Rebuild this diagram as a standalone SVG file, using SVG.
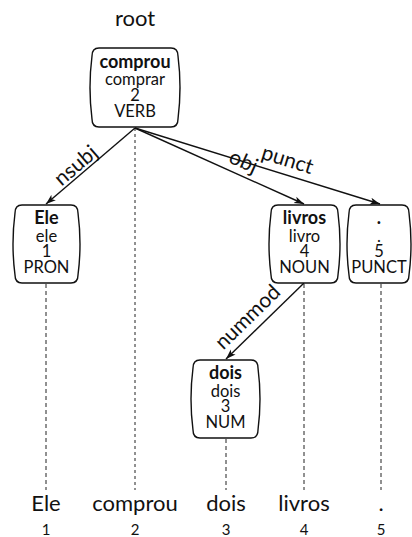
<svg xmlns="http://www.w3.org/2000/svg" width="412" height="537" viewBox="0 0 412 537">
  <defs>
    <marker id="arrow" viewBox="0 0 10 8" refX="10" refY="4" markerWidth="10" markerHeight="8" markerUnits="userSpaceOnUse" orient="auto">
      <path d="M0,0.5 L10,4 L0,7.5 L2.5,4 Z" fill="#111"/>
    </marker>
    <style>
      text { font-family: Lato, "Open Sans", "DejaVu Sans", sans-serif; fill: #111; text-anchor: middle; }
      .box { fill: #fff; stroke: #111; stroke-width: 1.4; }
      .form { font-weight: bold; font-size: 18px; }
      .info { font-size: 16.5px; }
      .edge { fill: none; stroke: #111; stroke-width: 1.4; marker-end: url(#arrow); }
      .lbl { font-size: 21px; }
      .guide { stroke: #222; stroke-width: 1; stroke-dasharray: 4 3; }
      .word { font-size: 22px; }
      .idx { font-size: 15px; }
      .root { font-size: 22px; }
    </style>
  </defs>

  <text class="root" x="135" y="26">root</text>

  <!-- projection guides from each token box down to the sentence line -->
  <g id="guides">
    <line class="guide" x1="135" y1="128" x2="135" y2="490" style="stroke-dasharray:3 3"/>
    <line class="guide" x1="46" y1="284" x2="46" y2="490"/>
    <line class="guide" x1="304" y1="284" x2="304" y2="490"/>
    <line class="guide" x1="381" y1="284" x2="381" y2="490"/>
    <line class="guide" x1="226" y1="439" x2="226" y2="490"/>
  </g>

  <!-- dependency arcs -->
  <g id="edges">
    <path class="edge" d="M135,128 L46,204"/>
    <path class="edge" d="M135,128 L304,204"/>
    <path class="edge" d="M135,128 L380,204"/>
    <path class="edge" d="M304,283 L226,359"/>
    <text class="lbl" transform="translate(82.2,173.1) rotate(-40.5)" y="-3">nsubj</text>
    <text class="lbl" transform="translate(237.8,174.2) rotate(24.2)" y="-7">obj</text>
    <text class="lbl" transform="translate(283.2,174) rotate(17.2)" y="-8">punct</text>
    <text class="lbl" transform="translate(258,327.8) rotate(-44.3)" y="-8">nummod</text>
  </g>

  <g id="n2">
    <path class="box" d="M99,48 H171 Q178,48 178,56 Q182,87.5 178,119 Q178,127 171,127 H99 Q92,127 92,119 Q88,87.5 92,56 Q92,48 99,48 Z"/>
    <text class="form" x="135" y="68">comprou</text>
    <text class="info" x="135" y="85">comprar</text>
    <text class="info" x="135" y="101">2</text>
    <text class="info" x="135" y="117">VERB</text>
  </g>

  <g id="n1">
    <path class="box" d="M22,205 H71 Q78,205 78,213 Q82,244 78,275 Q78,283 71,283 H22 Q15,283 15,275 Q11,244 15,213 Q15,205 22,205 Z"/>
    <text class="form" x="46.5" y="224">Ele</text>
    <text class="info" x="46.5" y="242">ele</text>
    <text class="info" x="46.5" y="257">1</text>
    <text class="info" x="46.5" y="273">PRON</text>
  </g>

  <g id="n4">
    <path class="box" d="M278,205 H331 Q338,205 338,213 Q342,244 338,275 Q338,283 331,283 H278 Q271,283 271,275 Q267,244 271,213 Q271,205 278,205 Z"/>
    <text class="form" x="304.5" y="224">livros</text>
    <text class="info" x="304.5" y="242">livro</text>
    <text class="info" x="304.5" y="257">4</text>
    <text class="info" x="304.5" y="273">NOUN</text>
  </g>

  <g id="n5">
    <path class="box" d="M356,205 H402 Q409,205 409,213 Q413,244 409,275 Q409,283 402,283 H356 Q349,283 349,275 Q345,244 349,213 Q349,205 356,205 Z"/>
    <text class="form" x="379" y="224">.</text>
    <text class="info" x="379" y="242">.</text>
    <text class="info" x="379" y="257">5</text>
    <text class="info" x="379" y="273">PUNCT</text>
  </g>

  <g id="n3">
    <path class="box" d="M200,360 H251 Q258,360 258,368 Q262,399 258,430 Q258,438 251,438 H200 Q193,438 193,430 Q189,399 193,368 Q193,360 200,360 Z"/>
    <text class="form" x="225.5" y="379">dois</text>
    <text class="info" x="225.5" y="397">dois</text>
    <text class="info" x="225.5" y="412">3</text>
    <text class="info" x="225.5" y="428">NUM</text>
  </g>

  <!-- sentence tokens with positions -->
  <g id="tokens">
    <text class="word" x="46" y="511">Ele</text>
    <text class="word" x="135" y="511">comprou</text>
    <text class="word" x="226" y="511">dois</text>
    <text class="word" x="304" y="511">livros</text>
    <text class="word" x="381" y="511">.</text>
    <text class="idx" x="46" y="535">1</text>
    <text class="idx" x="135" y="535">2</text>
    <text class="idx" x="226" y="535">3</text>
    <text class="idx" x="304" y="535">4</text>
    <text class="idx" x="381" y="535">5</text>
  </g>
</svg>
